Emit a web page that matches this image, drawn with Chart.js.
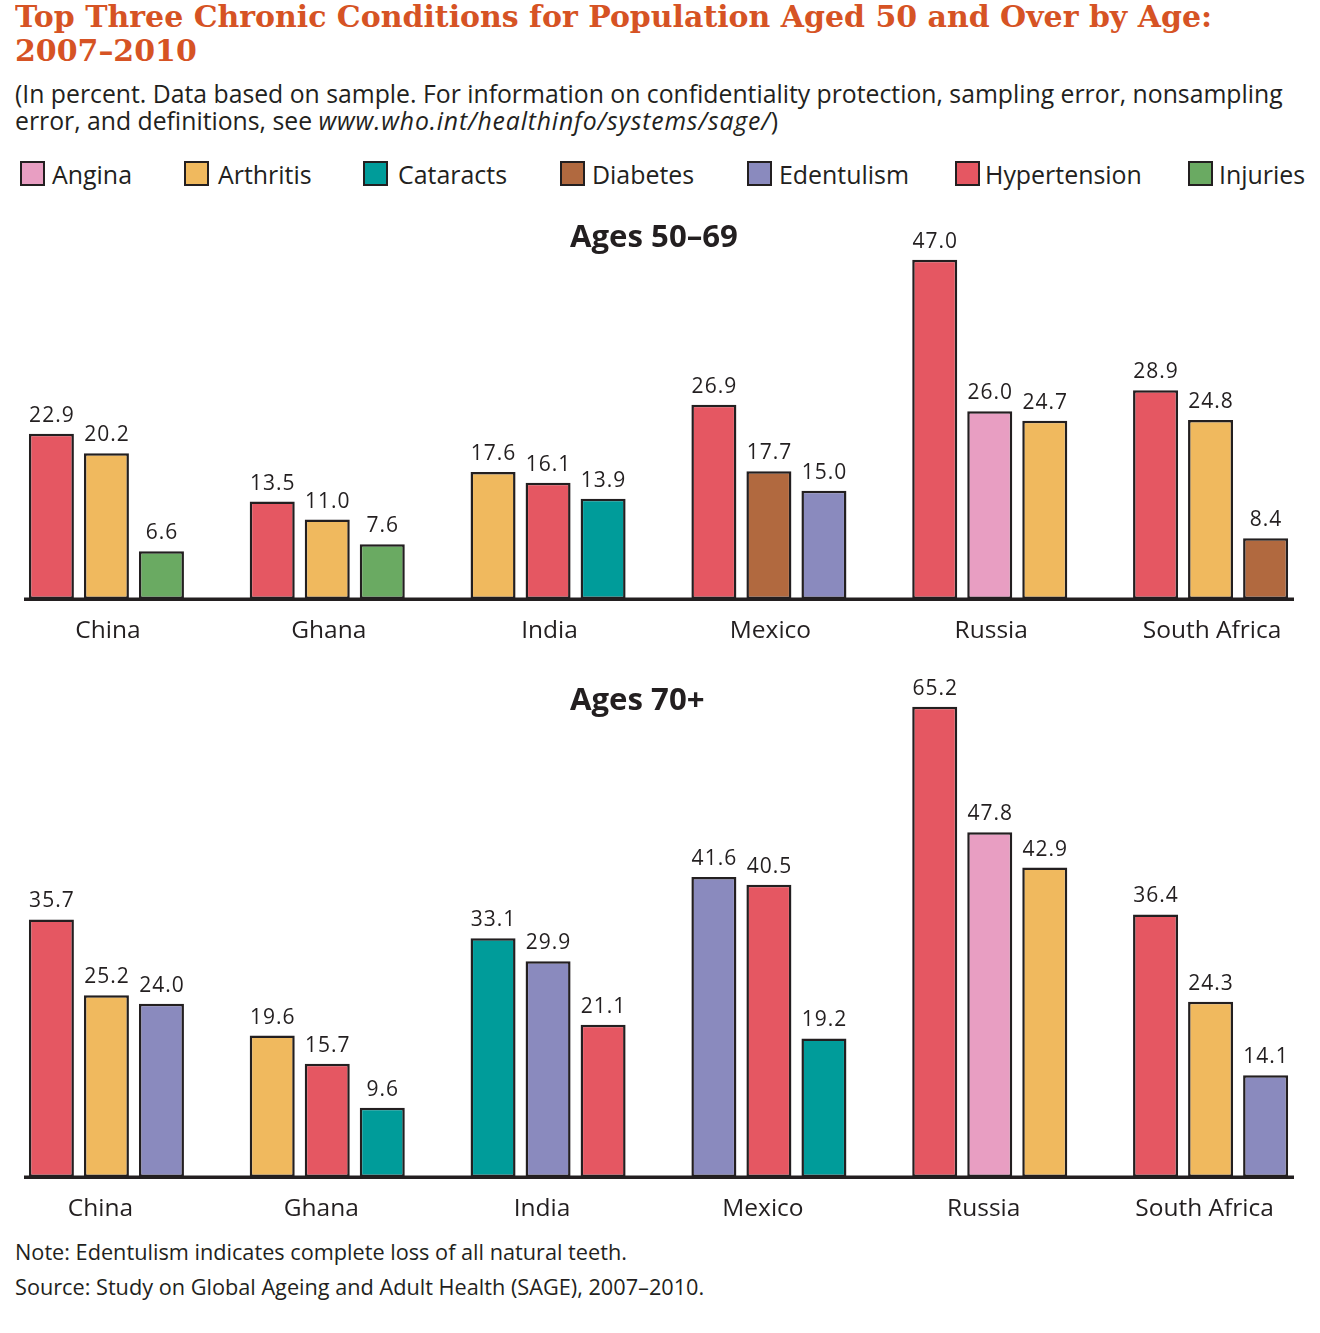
<!DOCTYPE html>
<html><head><meta charset="utf-8">
<script src="https://cdn.jsdelivr.net/npm/chart.js@4.4.0/dist/chart.umd.min.js"></script>
<style>
html,body{margin:0;padding:0;background:#fff;}
body{width:1320px;height:1333px;overflow:hidden;position:relative;font-family:'Open Sans',sans-serif;color:#231f20;}
.t{position:absolute;white-space:nowrap;z-index:2;}
.title{font-family:'DejaVu Serif',serif;font-weight:bold;color:#D65324;font-size:30px;line-height:34px;left:15px;transform-origin:0 50%;}
.sub{font-size:22px;line-height:27px;left:15px;}
.leg{font-size:24px;line-height:28px;top:160px;}
.sw{position:absolute;width:21px;height:21px;border:2px solid #231f20;top:161px;z-index:2;}
.ptitle{font-weight:bold;font-size:26px;line-height:30px;}
.note{font-size:20px;line-height:24px;left:15px;}
canvas{position:absolute;z-index:1;}
</style></head>
<body>
<div class="t title" id="title1" style="top:0px">Top Three Chronic Conditions for Population Aged 50 and Over by Age:</div>
<div class="t title" id="title2" style="top:34px">2007–2010</div>
<div class="t sub" id="sub1" style="top:80px">(In percent. Data based on sample. For information on confidentiality protection, sampling error, nonsampling</div>
<div class="t sub" id="sub2" style="top:107px">error, and definitions, see <i id="url">www.who.int/healthinfo/systems/sage/</i>)</div>
<div id="legend"></div>
<div class="t ptitle" id="pt1" style="left:570px;top:220px">Ages 50–69</div>
<div class="t ptitle" id="pt2" style="left:570px;top:683px">Ages 70+</div>
<canvas id="c1"></canvas>
<canvas id="c2"></canvas>
<div class="t note" id="note1" style="top:1240px">Note: Edentulism indicates complete loss of all natural teeth.</div>
<div class="t note" id="note2" style="top:1275px">Source: Study on Global Ageing and Adult Health (SAGE), 2007–2010.</div>
<script>
// ---------- DATA ----------
const countries = ['China','Ghana','India','Mexico','Russia','South Africa'];
const legendConditions = ['Angina','Arthritis','Cataracts','Diabetes','Edentulism','Hypertension','Injuries'];

// Ages 50–69 (first, second, third bar per country)
const age50_first_cond  = ['Hypertension','Hypertension','Arthritis','Hypertension','Hypertension','Hypertension'];
const age50_first_val   = [22.9, 13.5, 17.6, 26.9, 47.0, 28.9];
const age50_second_cond = ['Arthritis','Arthritis','Hypertension','Diabetes','Angina','Arthritis'];
const age50_second_val  = [20.2, 11.0, 16.1, 17.7, 26.0, 24.8];
const age50_third_cond  = ['Injuries','Injuries','Cataracts','Edentulism','Arthritis','Diabetes'];
const age50_third_val   = [6.6, 7.6, 13.9, 15.0, 24.7, 8.4];

// Ages 70+
const age70_first_cond  = ['Hypertension','Arthritis','Cataracts','Edentulism','Hypertension','Hypertension'];
const age70_first_val   = [35.7, 19.6, 33.1, 41.6, 65.2, 36.4];
const age70_second_cond = ['Arthritis','Hypertension','Edentulism','Hypertension','Angina','Arthritis'];
const age70_second_val  = [25.2, 15.7, 29.9, 40.5, 47.8, 24.3];
const age70_third_cond  = ['Edentulism','Cataracts','Hypertension','Cataracts','Arthritis','Edentulism'];
const age70_third_val   = [24.0, 9.6, 21.1, 19.2, 42.9, 14.1];

// ---------- STYLE ----------
const COLORS = {Angina:'#E89EC2', Arthritis:'#F0B95E', Cataracts:'#009C9A', Diabetes:'#B1693F',
                Edentulism:'#8A8ABE', Hypertension:'#E55762', Injuries:'#6AAA62'};
const INK = '#231f20';
const legendPos = [[20,52],[184,218],[363,398],[560,592],[747,779],[955,985],[1188,1219]];

// legend
const legEl = document.getElementById('legend');
legendConditions.forEach((c,i)=>{
  const sw = document.createElement('div'); sw.className='sw';
  sw.style.left = legendPos[i][0]+'px'; sw.style.background = COLORS[c]; legEl.appendChild(sw);
  const tx = document.createElement('div'); tx.className='t leg'; tx.id='leg_'+c;
  tx.style.left = legendPos[i][1]+'px'; tx.textContent = c; legEl.appendChild(tx);
});

// fit text widths
function fit(el, w){ const cur = el.getBoundingClientRect().width; const fs = parseFloat(getComputedStyle(el).fontSize); const n = fs*w/cur; el.style.fontSize = n+'px'; return n; }
function squeeze(el, w){ const cur = el.getBoundingClientRect().width; const s = w/cur; el.style.transform = 'scaleX('+s+')'; return s; }
let fs;
const sx = squeeze(document.getElementById('title1'),1197); document.getElementById('title2').style.transform = 'scaleX('+sx+')';
fs = fit(document.getElementById('sub1'),1268); document.getElementById('sub2').style.fontSize = fs+'px';
(function(){ const s2 = document.getElementById('sub2'); const url = document.getElementById('url');
  const cur = s2.getBoundingClientRect().width; const extra = 763 - cur;
  if (extra > 0) url.style.letterSpacing = (extra/url.textContent.length)+'px'; })();
fs = fit(document.getElementById('leg_Hypertension'),157); document.querySelectorAll('.leg').forEach(e=>e.style.fontSize=fs+'px');
fs = fit(document.getElementById('pt1'),168); document.getElementById('pt2').style.fontSize = fs+'px';
fs = fit(document.getElementById('note1'),612); document.getElementById('note2').style.fontSize = fs+'px';

// ---------- PLUGINS ----------
const valueLabels = {id:'valueLabels', afterDatasetsDraw(chart){
  const ctx = chart.ctx; ctx.save();
  ctx.font = '21px "Open Sans"'; ctx.fillStyle = INK; ctx.textAlign='center'; ctx.textBaseline='alphabetic';
  try{ ctx.letterSpacing='1px'; }catch(e){}
  chart.data.datasets.forEach((ds,i)=>{
    chart.getDatasetMeta(i).data.forEach((el,j)=>{ ctx.fillText(ds.data[j].toFixed(1), el.x+0.5, el.y-12); });
  });
  ctx.restore();
}};
const baseLine = {id:'baseLine', afterDatasetsDraw(chart){
  const ctx = chart.ctx; const y = chart.scales.y.getPixelForValue(0);
  ctx.save(); ctx.fillStyle = INK; ctx.fillRect(24+20, y-1.5, 1270, 3.5); ctx.restore();
}};

function panel(id, top, height, yMax, padTop, labelOffset, ranks){
  const cv = document.getElementById(id);
  cv.width = 1360; cv.height = height; cv.style.left = '-20px'; cv.style.top = top+'px';
  cv.style.width='1360px'; cv.style.height=height+'px';
  return new Chart(cv, {
    type:'bar',
    data:{labels:countries, datasets: ranks.map((r,k)=>({
      label:'rank'+(k+1), data:r[1],
      backgroundColor:r[0].map(c=>COLORS[c]),
      borderColor:INK, borderWidth:2.5, borderSkipped:false,
      categoryPercentage:0.7475, barPercentage:0.818
    }))},
    options:{responsive:false, animation:false, devicePixelRatio:1,
      layout:{padding:{left:16,right:19,top:padTop,bottom:0}},
      plugins:{legend:{display:false}, tooltip:{enabled:false}},
      scales:{
        x:{grid:{display:false}, border:{display:false},
           ticks:{color:INK, font:{family:'Open Sans', size:24.5}, padding:9, labelOffset:labelOffset, maxRotation:0, autoSkip:false},
           afterFit(s){ s.height = 50; }},
        y:{display:false, min:0, max:yMax}
      }},
    plugins:[valueLabels, baseLine]
  });
}

panel('c1', 200, 449, 50, 38, 1.5, [[age50_first_cond,age50_first_val],[age50_second_cond,age50_second_val],[age50_third_cond,age50_third_val]]);
panel('c2', 650, 577, 70, 22, -6, [[age70_first_cond,age70_first_val],[age70_second_cond,age70_second_val],[age70_third_cond,age70_third_val]]);
</script>
</body></html>
